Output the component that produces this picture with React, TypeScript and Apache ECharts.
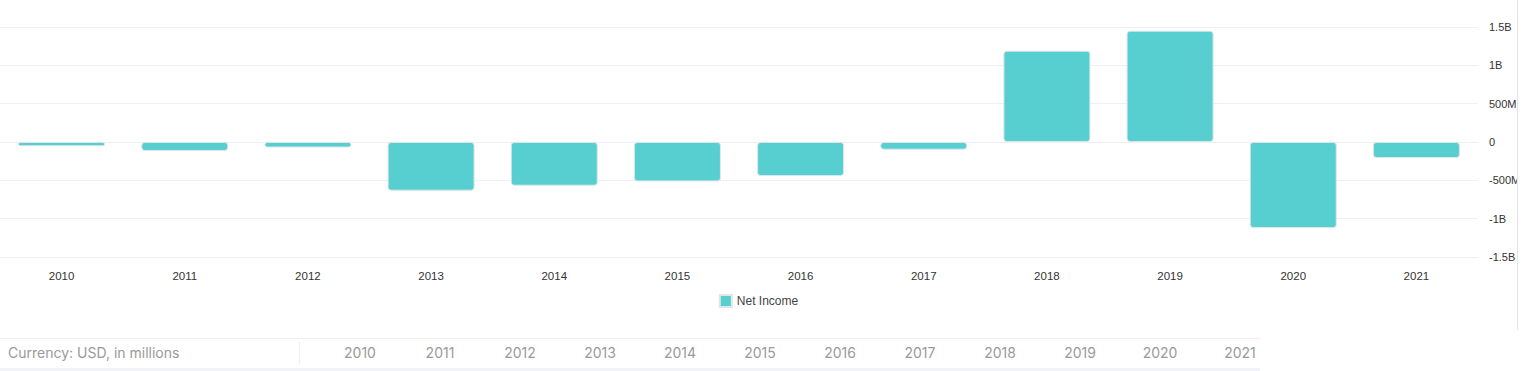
import React, { useEffect, useRef } from "react";
import * as echarts from "echarts";

const years = ["2010", "2011", "2012", "2013", "2014", "2015", "2016", "2017", "2018", "2019", "2020", "2021"];
// Net income, USD millions
const netIncome = [-55, -117, -72, -635, -570, -514, -444, -100, 1191, 1452, -1122, -209];
const yTicks = { min: -1500, max: 1500, interval: 500 };
const seriesName = "Net Income";
const currencyNote = "Currency: USD, in millions";

function fmt(v: number): string {
  if (v === 0) return "0";
  const a = Math.abs(v);
  const s = v < 0 ? "-" : "";
  if (a >= 1000) return s + (a / 1000).toString() + "B";
  return s + a + "M";
}

export default function App() {
  const ref = useRef<HTMLDivElement>(null);
  useEffect(() => {
    if (!ref.current) return;
    const chart = echarts.init(ref.current, undefined, { renderer: "svg" });
    chart.setOption({
      animation: false,
      textStyle: { fontFamily: "Liberation Sans, Arial, sans-serif" },
      grid: { left: 0, top: 27, width: 1478, height: 230, containLabel: false, outerBoundsMode: "none" },
      legend: {
        top: 289,
        left: "center",
        itemWidth: 12,
        itemHeight: 12,
        itemGap: 10,
        icon: "rect",
        textStyle: { color: "#444", fontSize: 12 },
        data: [seriesName],
      },
      xAxis: {
        type: "category",
        data: years,
        axisLine: { show: false },
        axisTick: { show: false },
        axisLabel: { color: "#333", fontSize: 11.5, margin: 13 },
      },
      yAxis: {
        type: "value",
        position: "right",
        min: yTicks.min,
        max: yTicks.max,
        interval: yTicks.interval,
        axisLine: { show: false },
        axisTick: { show: false },
        splitLine: { lineStyle: { color: "#eef0f5", width: 1 } },
        axisLabel: { color: "#333", fontSize: 11, margin: 11, formatter: (v: number) => fmt(v) },
      },
      series: [
        {
          name: seriesName,
          type: "bar",
          data: netIncome,
          barWidth: 87,
          itemStyle: {
            color: "#57CFD0",
            borderColor: "#dfe6ea",
            borderWidth: 1,
            borderRadius: 3,
          },
        },
      ],
    });
    return () => chart.dispose();
  }, []);

  return (
    <div style={{ position: "absolute", left: 0, top: 0, width: 1522, height: 371, background: "#fff", overflow: "hidden" }}>
      <div style={{ position: "absolute", left: 0, top: 0, width: 1517, height: 330, borderRight: "1px solid #e6e6ea" }}>
        <div ref={ref} style={{ width: 1517, height: 330 }} />
      </div>
      <div
        style={{
          position: "absolute",
          left: 0,
          top: 338,
          width: 1260,
          height: 29,
          borderTop: "1px solid #f0f1f5",
          borderBottom: "4px solid #f2f3f8",
          fontFamily: "Inter, sans-serif",
          fontSize: 14,
          color: "#9a9a9a",
        }}
      >
        <div style={{ position: "absolute", left: 8, top: 5, whiteSpace: "nowrap" }}>{currencyNote}</div>
        <div style={{ position: "absolute", left: 299, top: 3, width: 1, height: 22, background: "#eceef2" }} />
        {years.map((y, i) => (
          <div
            key={y}
            style={{ position: "absolute", left: 320 + 80 * i, width: 80, top: 5, textAlign: "center" }}
          >
            {y}
          </div>
        ))}
      </div>
    </div>
  );
}
